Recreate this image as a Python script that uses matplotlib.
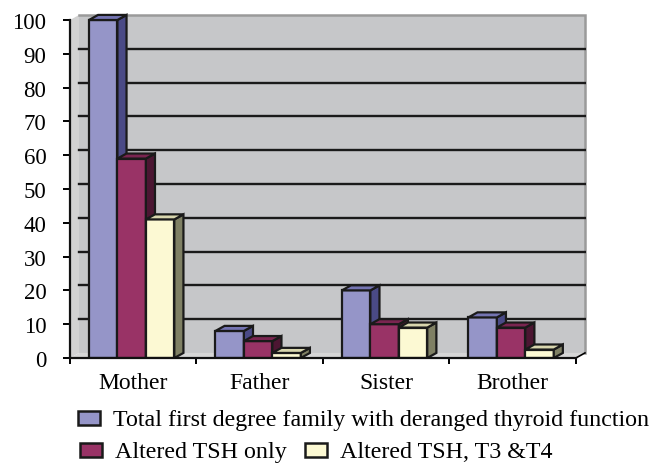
import numpy as np
import matplotlib
matplotlib.use("Agg")
import matplotlib.pyplot as plt
import matplotlib.patches as patches

plt.rcParams['font.family'] = ['Liberation Serif', 'DejaVu Serif']

# data
relatives = ['Mother', 'Father', 'Sister', 'Brother']
total_deranged = [100, 8, 20, 12]
tsh_only = [59, 5, 10, 9]
tsh_t3_t4 = [41, 1.5, 9, 2.5]
series_names = ['Total first degree family with deranged thyroid function',
                'Altered TSH only', 'Altered TSH, T3 &T4']
yticks = list(range(0, 101, 10))

# colours: front, side, top
front_cols = ['#9595C8', '#993366', '#FCF9D3']
side_cols = ['#4A4A86', '#4C1632', '#7F8064']
top_cols = ['#7474B2', '#7A2550', '#D8D6AE']

DX = 0.072   # depth offset in category units
DY = 1.5     # depth offset in value units
BAR_W = 0.225
OFFSET = 0.15

fig = plt.figure(figsize=(6.52, 4.64), dpi=100)
ax = fig.add_axes([70 / 652, 105 / 464, 516 / 652, 102 * 3.38 / 464])
ax.set_xlim(0, 4.08)
ax.set_ylim(0, 102)

# walls and floor
left_wall = patches.Polygon([(0, 0), (DX, DY), (DX, 100 + DY), (0, 100)],
                            facecolor='#D2D2D2', edgecolor='none', zorder=0)
back_wall = patches.Rectangle((DX, DY), 4, 100, facecolor='#C6C7C9',
                              edgecolor='none', zorder=0)
floor = patches.Polygon([(0, 0), (4, 0), (4 + DX, DY), (DX, DY)],
                        facecolor='#D6D6D6', edgecolor='none', zorder=0)
for p in (left_wall, back_wall, floor):
    ax.add_patch(p)
ax.plot([DX, 4 + DX, 4 + DX], [100 + DY, 100 + DY, DY], color='#9A9A9A',
        lw=1.8, zorder=1, clip_on=False, solid_joinstyle='miter')
ax.plot([4, 4 + DX], [0, DY], color='black', lw=1.2, zorder=1, clip_on=False)

for v in yticks[1:-1]:
    ax.plot([DX, 4 + DX], [v + DY, v + DY], color='#1A1A1A', lw=1.7, zorder=1)

# 3d bars
x = np.arange(len(relatives))
for j, vals in enumerate([total_deranged, tsh_only, tsh_t3_t4]):
    xs = x + OFFSET + j * BAR_W
    z = 3 + j
    ax.bar(xs, vals, width=BAR_W, align='edge', color=front_cols[j],
           edgecolor='#1A1A1A', linewidth=1.6, zorder=z)
    for xi, v in zip(xs, vals):
        side = patches.Polygon([(xi + BAR_W, 0), (xi + BAR_W + DX, DY),
                                (xi + BAR_W + DX, v + DY), (xi + BAR_W, v)],
                               facecolor=side_cols[j], edgecolor='#1A1A1A',
                               linewidth=1.6, zorder=z, joinstyle='miter')
        top = patches.Polygon([(xi, v), (xi + BAR_W, v),
                               (xi + BAR_W + DX, v + DY), (xi + DX, v + DY)],
                              facecolor=top_cols[j], edgecolor='#1A1A1A',
                              linewidth=1.6, zorder=z, joinstyle='miter')
        ax.add_patch(side)
        ax.add_patch(top)

# axes
for s in ('top', 'right'):
    ax.spines[s].set_visible(False)
ax.spines['left'].set_bounds(0, 100)
ax.spines['bottom'].set_bounds(0, 4)
for s in ('left', 'bottom'):
    ax.spines[s].set_linewidth(1.6)
    ax.spines[s].set_color('#111111')
    ax.spines[s].set_zorder(10)

ax.set_yticks(yticks)
ax.set_yticklabels([str(t) for t in yticks], fontsize=16.5)
ax.tick_params(axis='y', direction='out', length=5, width=1.4, pad=12)
ax.set_xticks(np.arange(len(relatives) + 1))
ax.set_xticklabels([])
ax.set_xticks(x + 0.5, minor=True)
ax.set_xticklabels(relatives, minor=True, fontsize=17)
ax.tick_params(axis='x', which='major', direction='out', length=4, width=1.4)
ax.tick_params(axis='x', which='minor', length=0, pad=10)

# legend drawn in figure pixels
def legend_item(px, py, color, label):
    box = patches.Rectangle((px / 652, 1 - (py + 14) / 464), 22 / 652, 14 / 464,
                            facecolor=color, edgecolor='#1A1A1A', linewidth=1.8,
                            transform=fig.transFigure)
    fig.add_artist(box)
    fig.text((px + 35) / 652, 1 - (py + 14) / 464, label, fontsize=17.3,
             va='baseline', ha='left')

legend_item(78, 412, front_cols[0], series_names[0])
legend_item(80, 444, front_cols[1], series_names[1])
legend_item(305, 444, front_cols[2], series_names[2])

fig.savefig('out.png', dpi=100)
